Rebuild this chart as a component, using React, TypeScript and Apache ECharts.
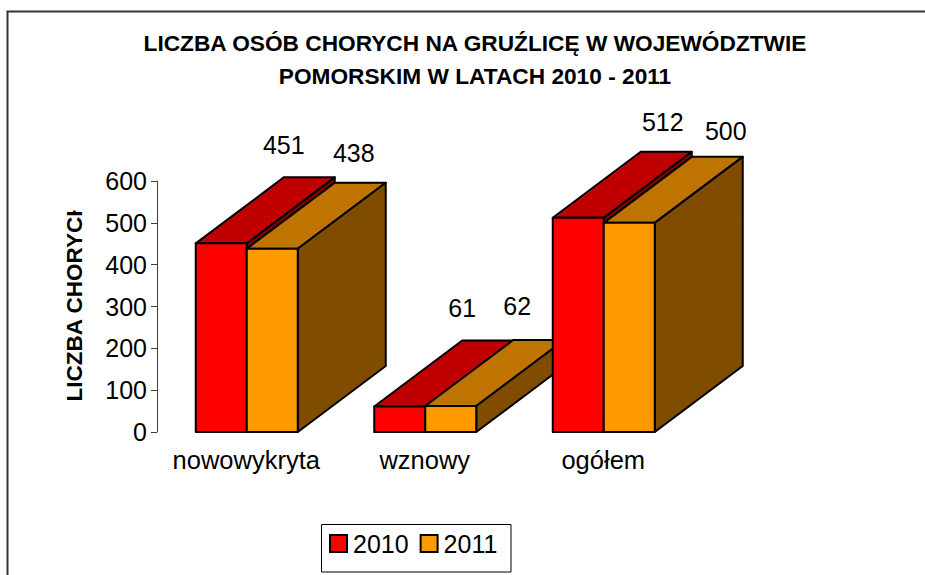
import React, { useEffect, useRef } from "react";
import * as echarts from "echarts";

const titleLines = ["LICZBA OSÓB CHORYCH NA GRUŹLICĘ W WOJEWÓDZTWIE", "POMORSKIM W LATACH 2010 - 2011"];
const yAxisTitle = "LICZBA CHORYCH";
const categories = ["nowowykryta", "wznowy", "ogółem"];
const seriesNames = ["2010", "2011"];
const values2010 = [451, 61, 512];
const values2011 = [438, 62, 500];

// Hand-placed data labels in the reference: pixel nudges from each bar's back-left top corner.
const labelNudge = [
  [[0, -32], [0, -32], [22, -30]],
  [[19, -30], [4, -34], [34, -26]],
];

const FONT = '"Liberation Sans", Arial, sans-serif';
const faces = [
  { front: "#FF0000", top: "#C00000", side: "#800000" },
  { front: "#FF9900", top: "#BF7300", side: "#804D00" },
];
const DX = 88;
const DY = -66;
const BAR_FRACTION = 0.2857;
const EDGE = { stroke: "#000", lineWidth: 2, lineJoin: "round" };

function renderBar(params: any, api: any) {
  const s = params.seriesIndex;
  const cat = api.value(0);
  const val = api.value(1);
  const [cx, yTop] = api.coord([cat, val]);
  const [, yBase] = api.coord([cat, 0]);
  const w = api.size([1, 0])[0] * BAR_FRACTION;
  const x0 = cx - w + s * w + 0.5;
  const x1 = x0 + w;
  const z = cat * 10 + s * 4;
  const poly = (points: number[][], fill: string, k: number) => ({
    type: "polygon",
    z2: z + k,
    shape: { points },
    style: { fill, ...EDGE },
  });
  const [nx, ny] = labelNudge[s][cat];
  return {
    type: "group",
    children: [
      poly([[x0, yTop], [x0 + DX, yTop + DY], [x1 + DX, yTop + DY], [x1, yTop]], faces[s].top, 0),
      poly([[x1, yTop], [x1 + DX, yTop + DY], [x1 + DX, yBase + DY], [x1, yBase]], faces[s].side, 1),
      poly([[x0, yTop], [x1, yTop], [x1, yBase], [x0, yBase]], faces[s].front, 2),
      {
        type: "text",
        z2: 100,
        x: x0 + DX + nx,
        y: yTop + DY + ny,
        style: {
          text: String(val),
          fill: "#000",
          fontSize: 25,
          fontFamily: FONT,
          align: "center",
          verticalAlign: "middle",
        },
      },
    ],
  };
}

export default function App() {
  const ref = useRef<HTMLDivElement>(null);
  useEffect(() => {
    const chart = echarts.init(ref.current!, undefined, { renderer: "svg" });
    const toData = (vals: number[]) => vals.map((v, i) => [i, v]);
    chart.setOption({
      animation: false,
      backgroundColor: "#fff",
      textStyle: { fontFamily: FONT, color: "#000" },
      title: {
        text: titleLines.join("\n"),
        left: 470,
        top: 21,
        textAlign: "center",
        textStyle: { fontFamily: FONT, fontSize: 22.7, fontWeight: "bold", color: "#000", lineHeight: 33 },
      },
      grid: { left: 157, top: 181, width: 535.5, height: 251 },
      legend: {
        left: 329,
        top: 531,
        padding: 0,
        itemWidth: 17,
        itemHeight: 17,
        itemGap: 11,
        icon: "rect",
        data: seriesNames,
        selectedMode: false,
        itemStyle: { borderColor: "#000", borderWidth: 2 },
        textStyle: { fontFamily: FONT, fontSize: 25, color: "#000", padding: [0, 0, 0, 1] },
      },
      xAxis: {
        type: "category",
        data: categories,
        axisLine: { show: false },
        axisTick: { show: false },
        axisLabel: { fontFamily: FONT, fontSize: 25.5, color: "#000", margin: 15, interval: 0 },
      },
      yAxis: {
        type: "value",
        min: 0,
        max: 600,
        interval: 100,
        axisLine: { show: true, lineStyle: { color: "#404040", width: 1 } },
        axisTick: { show: true, length: 6, lineStyle: { color: "#404040", width: 1 } },
        axisLabel: { fontFamily: FONT, fontSize: 25, color: "#000", margin: 10 },
        splitLine: { show: false },
      },
      series: [values2010, values2011].map((vals, s) => ({
        type: "custom",
        name: seriesNames[s],
        renderItem: renderBar,
        encode: { x: 0, y: 1 },
        data: toData(vals),
        itemStyle: { color: faces[s].front },
      })),
      graphic: [
        {
          type: "polyline",
          silent: true,
          shape: { points: [[7.5, 580], [7.5, 11.5], [930, 11.5]] },
          style: { stroke: "#333", lineWidth: 2, fill: "none" },
        },
        {
          type: "rect",
          silent: true,
          shape: { x: 321.5, y: 524.5, width: 189.5, height: 47.5 },
          style: { stroke: "#000", lineWidth: 1, fill: "none" },
        },
        {
          type: "text",
          silent: true,
          z: 40,
          x: 74,
          y: 301,
          rotation: Math.PI / 2,
          style: {
            text: yAxisTitle,
            fill: "#000",
            fontFamily: FONT,
            fontSize: 22.5,
            fontWeight: "bold",
            align: "center",
            verticalAlign: "middle",
          },
        },
        {
          type: "rect",
          silent: true,
          z: 50,
          shape: { x: 55, y: 190, width: 40, height: 20.5 },
          style: { fill: "#fff" },
        },
      ],
    });
    return () => chart.dispose();
  }, []);
  return <div ref={ref} style={{ position: "absolute", left: 0, top: 0, width: 925, height: 575 }} />;
}
